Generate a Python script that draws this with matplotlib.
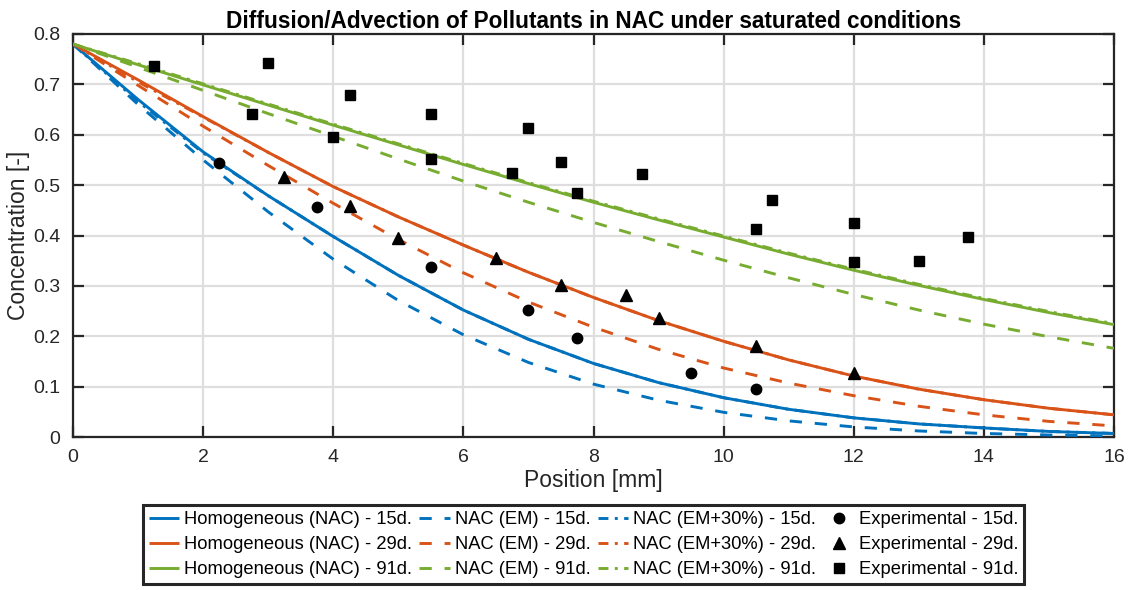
import matplotlib
matplotlib.use("Agg")
import matplotlib.pyplot as plt

plt.rcParams['font.family'] = ['Liberation Sans', 'DejaVu Sans']

# ---------------- data ----------------
x_pos = [0, 1, 2, 3, 4, 5, 6, 7, 8, 9, 10, 11, 12, 13, 14, 15, 16]

hom_15 = [0.780, 0.670, 0.566, 0.479, 0.398, 0.321, 0.252, 0.194, 0.146, 0.108,
          0.078, 0.055, 0.038, 0.026, 0.018, 0.011, 0.007]
em_15 = [0.780, 0.660, 0.550, 0.447, 0.353, 0.271, 0.203, 0.148, 0.105, 0.073,
         0.049, 0.032, 0.020, 0.012, 0.007, 0.004, 0.002]
em30_15 = [0.780, 0.666, 0.564, 0.479, 0.398, 0.321, 0.252, 0.194, 0.146, 0.108,
           0.078, 0.055, 0.038, 0.026, 0.018, 0.011, 0.007]

hom_29 = [0.780, 0.709, 0.636, 0.565, 0.497, 0.437, 0.381, 0.327, 0.277, 0.231,
          0.190, 0.153, 0.121, 0.095, 0.074, 0.057, 0.044]
em_29 = [0.780, 0.698, 0.617, 0.539, 0.464, 0.392, 0.326, 0.268, 0.218, 0.174,
         0.137, 0.107, 0.082, 0.061, 0.044, 0.031, 0.022]
em30_29 = [0.780, 0.705, 0.635, 0.565, 0.497, 0.437, 0.381, 0.327, 0.277, 0.231,
           0.190, 0.153, 0.121, 0.095, 0.074, 0.057, 0.044]

hom_91 = [0.780, 0.739, 0.699, 0.659, 0.619, 0.580, 0.541, 0.503, 0.466, 0.431,
          0.397, 0.363, 0.331, 0.301, 0.273, 0.247, 0.223]
em_91 = [0.780, 0.734, 0.688, 0.642, 0.597, 0.552, 0.508, 0.466, 0.426, 0.388,
         0.351, 0.316, 0.283, 0.252, 0.224, 0.199, 0.176]
em30_91 = [0.780, 0.741, 0.701, 0.661, 0.621, 0.582, 0.543, 0.505, 0.468, 0.433,
           0.399, 0.365, 0.333, 0.303, 0.275, 0.249, 0.225]

exp15_x = [2.25, 3.75, 5.5, 7.0, 7.75, 9.5, 10.5]
exp15_y = [0.543, 0.457, 0.337, 0.253, 0.197, 0.127, 0.096]

exp29_x = [3.25, 4.25, 5.0, 6.5, 7.5, 8.5, 9.0, 10.5, 12.0]
exp29_y = [0.517, 0.459, 0.396, 0.355, 0.302, 0.282, 0.236, 0.180, 0.128]

exp91_x = [1.25, 2.75, 3.0, 4.0, 4.25, 5.5, 5.5, 6.75, 7.0, 7.5, 7.75, 8.75,
           10.5, 10.75, 12.0, 12.0, 13.0, 13.75]
exp91_y = [0.737, 0.641, 0.742, 0.596, 0.678, 0.641, 0.552, 0.524, 0.613, 0.545,
           0.484, 0.523, 0.413, 0.471, 0.424, 0.347, 0.349, 0.398]

ages = ['15d.', '29d.', '91d.']
colors = ['#0072BD', '#D95319', '#77AC30']

# ---------------- figure ----------------
fig = plt.figure(figsize=(11.33, 5.90), dpi=100)
ax = fig.add_axes([73/1133, 1 - 437/590, (1114 - 73)/1133, (437 - 34)/590])

lw = 2.1
dash = (4.2, 4.4)
dashdot = (3.4, 2.2, 1.0, 2.2)

hom = [hom_15, hom_29, hom_91]
em = [em_15, em_29, em_91]
em30 = [em30_15, em30_29, em30_91]

h_hom, h_em, h_em30 = [], [], []
for i in range(3):
    l, = ax.plot(x_pos, hom[i], color=colors[i], lw=lw, solid_capstyle='butt',
                 solid_joinstyle='round',
                 label=f'Homogeneous (NAC) - {ages[i]}', zorder=3)
    h_hom.append(l)
for i in range(3):
    l, = ax.plot(x_pos, em[i], color=colors[i], lw=lw, dashes=dash,
                 dash_capstyle='butt', label=f'NAC (EM) - {ages[i]}', zorder=3)
    h_em.append(l)
for i in range(3):
    l, = ax.plot(x_pos, em30[i], color=colors[i], lw=lw, dashes=dashdot,
                 dash_capstyle='butt', label=f'NAC (EM+30%) - {ages[i]}', zorder=3)
    h_em30.append(l)

e1, = ax.plot(exp15_x, exp15_y, 'o', color='k', ms=7.5, ls='none',
              label='Experimental - 15d.', zorder=4)
e2, = ax.plot(exp29_x, exp29_y, '^', color='k', ms=9, ls='none',
              label='Experimental - 29d.', zorder=4)
e3, = ax.plot(exp91_x, exp91_y, 's', color='k', ms=7, ls='none',
              label='Experimental - 91d.', zorder=4)

ax.set_xlim(0, 16)
ax.set_ylim(0, 0.8)
ax.set_xticks(range(0, 17, 2))
ax.set_yticks([i / 10 for i in range(9)])
ax.set_yticklabels(['0'] + [f'{i/10:.1f}' for i in range(1, 9)])

ax.grid(True, color='#dedede', lw=1.6, zorder=0)
ax.set_axisbelow(True)
for s in ax.spines.values():
    s.set_color('#262626')
    s.set_linewidth(1.6)
ax.tick_params(direction='in', length=8, width=1.6, color='#262626',
               top=True, right=True, labelsize=14, labelcolor='#262626')
ax.tick_params(axis='x', pad=9)
ax.tick_params(axis='y', pad=9)

ax.set_xlabel('Position [mm]', fontsize=16.5, color='#262626', labelpad=2)
ax.set_ylabel('Concentration [-]', fontsize=16.5, color='#262626', labelpad=2)
ax.set_title('Diffusion/Advection of Pollutants in NAC under saturated conditions',
             fontsize=16.3, fontweight='bold', pad=4)

handles = h_hom + h_em + h_em30 + [e1, e2, e3]
leg = fig.legend(handles=handles, loc='upper center', ncol=4,
                 bbox_to_anchor=(583.5/1133, 1 - 505/590),
                 frameon=True, fancybox=False, framealpha=1, edgecolor='#262626',
                 prop={'size': 13.2},
                 handlelength=1.65, handletextpad=0.28, columnspacing=0.4,
                 labelspacing=0.44, borderpad=0.33, borderaxespad=0)
leg.get_frame().set_linewidth(2.2)

fig.savefig('out.png', dpi=100)
